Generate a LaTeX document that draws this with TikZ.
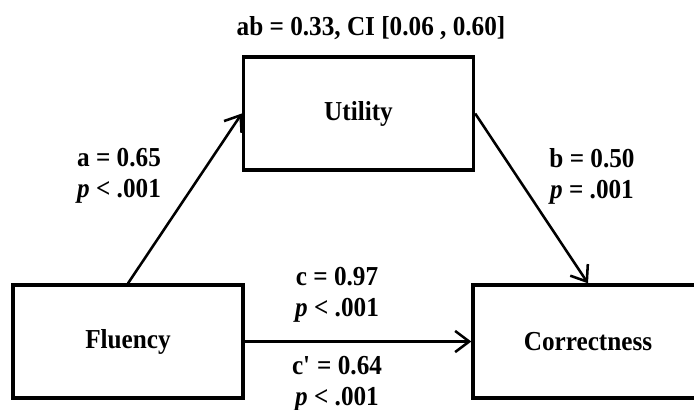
\documentclass[tikz,border=0pt]{standalone}
\usepackage{fontspec}
\setmainfont{Liberation Serif}[FakeStretch=0.92]
\usetikzlibrary{arrows.meta,positioning}

\begin{document}
\begin{tikzpicture}[
        box/.style={draw, line width=1.9pt, minimum width=4.6cm, minimum height=2.26cm, font=\fontsize{15.6}{17.6}\selectfont\bfseries},
        lbl/.style={align=center, font=\fontsize{15.6}{17.6}\selectfont\bfseries},
        eff/.style={line width=1.45pt, -{Straight Barb[length=8pt, width=12pt]}}
    ]
        \useasboundingbox (0, 0) rectangle (13.88, -8.2);

        \node[box] (utility) at (7.17, -2.27) {Utility};
        \node[box] (fluency) at (2.56, -6.83) {Fluency};
        \node[box] (correct) at (11.76, -6.83) {Correctness};

        \draw[eff] (fluency.north) -- (utility.west);
        \draw[eff] (utility.east) -- (correct.north);
        \draw[eff] (fluency.east) -- (correct.west);

        \node[lbl] (ab) at (7.42, -0.56) {ab = 0.33, CI [0.06 , 0.60]};
        \node[lbl] (a) at (2.38, -3.52) {a = 0.65\\\textit{p} < .001};
        \node[lbl] (b) at (11.84, -3.52) {b = 0.50\\\textit{p} = .001};
        \node[lbl] (c) at (6.74, -5.9) {c = 0.97\\\textit{p} < .001};
        \node[lbl] (cp) at (6.74, -7.67) {c\textquotesingle{} = 0.64\\\textit{p} < .001};
    \end{tikzpicture}
\end{document}
